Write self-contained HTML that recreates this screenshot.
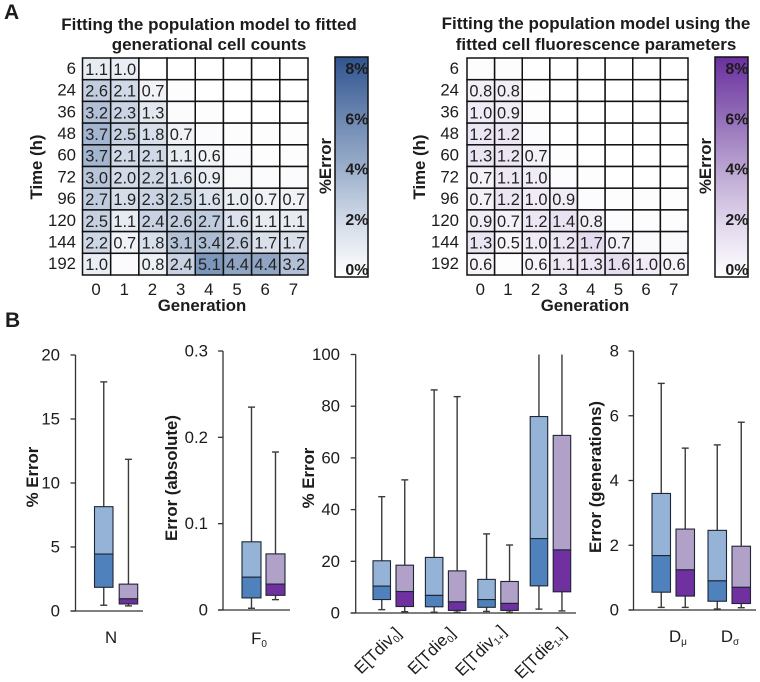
<!DOCTYPE html>
<html lang="en">
<head>
<meta charset="utf-8">
<title>Population model fitting error</title>
<style>
html,body{margin:0;padding:0;background:#fff;}
svg{display:block;font-family:"Liberation Sans",Arial,sans-serif;}
text{fill:#1c1c1c;}
.ttl{font-weight:bold;font-size:17px;text-anchor:middle;}
.axt{font-weight:bold;font-size:16.8px;text-anchor:middle;}
.tk{font-size:16.8px;}
.cell{font-size:16.4px;text-anchor:middle;fill:#222;}
.cb{font-weight:bold;font-size:16px;text-anchor:end;}
.pl{font-weight:bold;font-size:21px;}
</style>
</head>
<body>
<svg id="fig" xmlns="http://www.w3.org/2000/svg" width="760" height="682" viewBox="0 0 760 682">
  <rect width="760" height="682" fill="#fff"/>
  <text class="pl" x="4" y="19">A</text>
  <text class="pl" x="5" y="327">B</text>

  <text class="ttl" x="209" y="30">Fitting the population model to fitted</text>
  <text class="ttl" x="209" y="50">generational cell counts</text>
  <text class="ttl" x="596" y="29">Fitting the population model using the</text>
  <text class="ttl" x="596" y="50">fitted cell fluorescence parameters</text>

  <text class="axt" transform="translate(42,167) rotate(-90)">Time (h)</text>
  <text class="axt" transform="translate(425,167) rotate(-90)">Time (h)</text>
  <text class="axt" x="202" y="311">Generation</text>
  <text class="axt" x="585" y="311">Generation</text>
  <text class="axt" transform="translate(331,166) rotate(-90)">%Error</text>
  <text class="axt" transform="translate(711,166) rotate(-90)">%Error</text>

  <text class="axt" transform="translate(38,477) rotate(-90)">% Error</text>
  <text class="axt" transform="translate(177,478) rotate(-90)">Error (absolute)</text>
  <text class="axt" transform="translate(314,478) rotate(-90)">% Error</text>
  <text class="axt" transform="translate(601,477) rotate(-90)">Error (generations)</text>
</svg>
<script>
/* ---------- heatmap data ---------- */
const timeLabels = ['6','24','36','48','60','72','96','120','144','192'];
const generationLabels = ['0','1','2','3','4','5','6','7'];
const countsError = [
  [1.1,1.0,0.0,0.0,0.0,0.0,0.0,0.0],
  [2.6,2.1,0.7,0.1,0.0,0.0,0.0,0.0],
  [3.2,2.3,1.3,0.2,0.1,0.0,0.0,0.0],
  [3.7,2.5,1.8,0.7,0.2,0.1,0.1,0.1],
  [3.7,2.1,2.1,1.1,0.6,0.2,0.1,0.1],
  [3.0,2.0,2.2,1.6,0.9,0.3,0.2,0.2],
  [2.7,1.9,2.3,2.5,1.6,1.0,0.7,0.7],
  [2.5,1.1,2.4,2.6,2.7,1.6,1.1,1.1],
  [2.2,0.7,1.8,3.1,3.4,2.6,1.7,1.7],
  [1.0,0.2,0.8,2.4,5.1,4.4,4.4,3.2]
];
const fluorescenceError = [
  [0.1,0.1,0.0,0.0,0.0,0.0,0.0,0.0],
  [0.8,0.8,0.1,0.0,0.0,0.0,0.0,0.0],
  [1.0,0.9,0.1,0.0,0.0,0.0,0.0,0.0],
  [1.2,1.2,0.2,0.0,0.0,0.0,0.0,0.0],
  [1.3,1.2,0.7,0.1,0.0,0.0,0.0,0.0],
  [0.7,1.1,1.0,0.2,0.1,0.0,0.0,0.0],
  [0.7,1.2,1.0,0.9,0.2,0.1,0.1,0.1],
  [0.9,0.7,1.2,1.4,0.8,0.2,0.1,0.1],
  [1.3,0.5,1.0,1.2,1.7,0.7,0.3,0.3],
  [0.6,0.1,0.6,1.1,1.3,1.6,1.0,0.6]
];
const colorbarTicks = [0,2,4,6,8];

/* ---------- box plot data: [whisker high, q3, median, q1, whisker low] ---------- */
const nBlue = [17.9,8.15,4.45,1.85,0.45];
const nPurple = [11.85,2.1,0.95,0.55,0.4];
const f0Blue = [0.235,0.079,0.038,0.014,0.002];
const f0Purple = [0.183,0.065,0.03,0.017,0.012];
const tdiv0Blue = [45,20.2,10.4,5.2,1.3];
const tdiv0Purple = [51.5,18.5,8.3,2.5,0.5];
const tdie0Blue = [86.3,21.5,6.8,2.4,0.3];
const tdie0Purple = [83.7,16.3,4.3,1.0,0.3];
const tdiv1Blue = [30.6,13,5.2,2.2,0.6];
const tdiv1Purple = [26.3,12.2,3.7,1.0,0.3];
const tdie1Blue = [100,76,28.8,10.5,1.5];
const tdie1Purple = [100,68.7,24.4,8.2,0.8];
const dMuBlue = [7.0,3.6,1.68,0.55,0.08];
const dMuPurple = [5.0,2.5,1.24,0.43,0.08];
const dSigmaBlue = [5.1,2.46,0.9,0.27,0.03];
const dSigmaPurple = [5.8,1.97,0.7,0.2,0.07];
const nTicks = ['0','5','10','15','20'];
const f0Ticks = ['0','0.1','0.2','0.3'];
const timesTicks = ['0','20','40','60','80','100'];
const dTicks = ['0','2','4','6','8'];

/* ---------- helpers ---------- */
const NS = 'http://www.w3.org/2000/svg';
const svg = document.getElementById('fig');
function mk(tag, attrs, parent) {
  const e = document.createElementNS(NS, tag);
  for (const k in attrs) e.setAttribute(k, attrs[k]);
  (parent || svg).appendChild(e);
  return e;
}
const blueRamp = [[255,255,255],[211,219,232],[154,174,202],[102,130,174],[47,84,144]];
const purpleRamp = [[255,255,255],[224,214,236],[185,162,208],[143,104,181],[107,47,160]];
function rampColor(ramp, v) {
  const t = Math.max(0, Math.min(1, v / 8)) * (ramp.length - 1);
  const i = Math.min(ramp.length - 2, Math.floor(t));
  const f = t - i;
  const c = [0,1,2].map(function (k) { return Math.round(ramp[i][k] + (ramp[i + 1][k] - ramp[i][k]) * f); });
  return 'rgb(' + c.join(',') + ')';
}

/* ---------- heatmaps ---------- */
function drawHeatmap(prefix, matrix, ramp, x0, x1, y0, y1, labelRight) {
  const cw = (x1 - x0) / generationLabels.length;
  const ch = (y1 - y0) / timeLabels.length;
  const g = mk('g', {});
  
  
  matrix.forEach(function (row, r) {
    row.forEach(function (v, c) {
      const rect = mk('rect', {x: x0 + c * cw, y: y0 + r * ch, width: cw, height: ch, fill: rampColor(ramp, v), stroke: '#111', 'stroke-width': 1.5}, g);
      
      
      if (v >= 0.5) {
        const t = mk('text', {class: 'cell', x: x0 + (c + 0.5) * cw, y: y0 + (r + 0.5) * ch + 6}, g);
        t.textContent = v.toFixed(1);
        
        
      }
    });
  });
  timeLabels.forEach(function (lab, r) {
    const t = mk('text', {class: 'tk', x: labelRight, y: y0 + (r + 0.5) * ch + 5, 'text-anchor': 'end'});
    t.textContent = lab;
    
    
  });
  generationLabels.forEach(function (lab, c) {
    const t = mk('text', {class: 'tk', x: x0 + (c + 0.5) * cw - 0.5, y: 295, 'text-anchor': 'middle'});
    t.textContent = lab;
    
    
  });
}
drawHeatmap('left', countsError, blueRamp, 82.5, 308, 58, 275, 76);
drawHeatmap('right', fluorescenceError, purpleRamp, 467, 688, 58, 275, 459);

/* ---------- colorbars ---------- */
const defs = mk('defs', {});
function drawColorbar(prefix, ramp, x) {
  const id = prefix + 'Grad';
  const grad = mk('linearGradient', {id: id, x1: 0, y1: 1, x2: 0, y2: 0}, defs);
  ramp.forEach(function (c, i) {
    mk('stop', {offset: i / (ramp.length - 1), 'stop-color': 'rgb(' + c.join(',') + ')'}, grad);
  });
  const r = mk('rect', {x: x, y: 57, width: 33, height: 220, fill: 'url(#' + id + ')', stroke: '#111', 'stroke-width': 1.5});
  
  
  colorbarTicks.forEach(function (v) {
    const t = mk('text', {class: 'cb', x: x + 33.5, y: 275 - v / 8 * 201});
    t.textContent = v + '%';
    
    
  });
}
drawColorbar('left', blueRamp, 335);
drawColorbar('right', purpleRamp, 715);

/* ---------- box plots ---------- */
const palette = {
  blue: {hi: '#95b3d7', lo: '#4f81bd'},
  purple: {hi: '#b1a0c7', lo: '#7030a0'}
};
function drawBoxChart(cfg) {
  const g = mk('g', {});
  
  
  const y = function (v) { return cfg.y0 - v / cfg.max * (cfg.y0 - cfg.y1); };
  const ink = '#333';
  const ya = mk('line', {x1: cfg.ax, x2: cfg.ax, y1: cfg.y1, y2: cfg.y0, stroke: ink, 'stroke-width': 1.3}, g);
  
  
  const xa = mk('line', {x1: cfg.ax - 5, x2: cfg.axEnd, y1: cfg.y0, y2: cfg.y0, stroke: ink, 'stroke-width': 1.3}, g);
  
  
  cfg.ticks.forEach(function (lab) {
    const v = parseFloat(lab);
    mk('line', {x1: cfg.ax - 5, x2: cfg.ax, y1: y(v), y2: y(v), stroke: ink, 'stroke-width': 1.3}, g);
    const t = mk('text', {class: 'tk', x: cfg.labelRight, y: y(v) + 5.5, 'text-anchor': 'end'}, g);
    t.textContent = lab;
    
    
  });
  cfg.groups.forEach(function (pair, i) {
    pair.forEach(function (d, j) {
      const col = j === 0 ? palette.blue : palette.purple;
      const left = cfg.first + i * cfg.step + j * cfg.pitch;
      const cx = left + cfg.w / 2;
      const b = mk('g', {}, g);
      
      
      mk('line', {x1: cx, x2: cx, y1: y(d[0]), y2: y(d[4]), stroke: '#3a3a3a', 'stroke-width': 1.4}, b);
      if (d[0] < cfg.max) mk('line', {x1: cx - 3.5, x2: cx + 3.5, y1: y(d[0]), y2: y(d[0]), stroke: '#3a3a3a', 'stroke-width': 1.4}, b);
      mk('line', {x1: cx - 3.5, x2: cx + 3.5, y1: y(d[4]), y2: y(d[4]), stroke: '#3a3a3a', 'stroke-width': 1.4}, b);
      mk('rect', {x: left, y: y(d[1]), width: cfg.w, height: y(d[2]) - y(d[1]), fill: col.hi, stroke: '#1d2633', 'stroke-width': 1.1}, b);
      mk('rect', {x: left, y: y(d[2]), width: cfg.w, height: y(d[3]) - y(d[2]), fill: col.lo, stroke: '#1d2633', 'stroke-width': 1.1}, b);
    });
  });
}
drawBoxChart({name: 'n', max: 20, y0: 611, y1: 355, ax: 75.5, axEnd: 143, labelRight: 60, ticks: nTicks,
  first: 94.5, step: 0, pitch: 24.7, w: 18.5, groups: [[nBlue, nPurple]]});
drawBoxChart({name: 'f0', max: 0.3, y0: 610, y1: 351, ax: 223, axEnd: 290, labelRight: 208, ticks: f0Ticks,
  first: 242, step: 0, pitch: 24, w: 19, groups: [[f0Blue, f0Purple]]});
drawBoxChart({name: 'times', max: 100, y0: 613, y1: 354.5, ax: 355.7, axEnd: 576, labelRight: 340, ticks: timesTicks,
  first: 373, step: 52.4, pitch: 23, w: 17.5,
  groups: [[tdiv0Blue, tdiv0Purple],[tdie0Blue, tdie0Purple],[tdiv1Blue, tdiv1Purple],[tdie1Blue, tdie1Purple]]});
drawBoxChart({name: 'd', max: 8, y0: 610, y1: 351, ax: 633.5, axEnd: 756, labelRight: 619, ticks: dTicks,
  first: 652, step: 56, pitch: 24, w: 18.5, groups: [[dMuBlue, dMuPurple],[dSigmaBlue, dSigmaPurple]]});

/* ---------- category labels ---------- */
function catLabel(name, base, sub, x, y, rotate) {
  const attrs = {class: 'tk', 'text-anchor': rotate ? 'end' : 'middle'};
  if (rotate) attrs.transform = 'translate(' + x + ',' + y + ') rotate(-45)';
  else { attrs.x = x; attrs.y = y; }
  const t = mk('text', attrs);
  
  
  const a = mk('tspan', {}, t);
  a.textContent = base;
  if (sub) {
    const s = mk('tspan', {'font-size': '10px', dy: 3}, t);
    s.textContent = sub;
    if (rotate) {
      const c = mk('tspan', {dy: -3}, t);
      c.textContent = ']';
    }
  }
}
catLabel('n-category-label', 'N', '', 111, 643, false);
catLabel('f0-category-label', 'F', '0', 259, 644, false);
catLabel('d-mu-category-label', 'D', '\u03BC', 678, 642, false);
catLabel('d-sigma-category-label', 'D', '\u03C3', 730, 642, false);
catLabel('tdiv0-category-label', 'E[Tdiv', '0', 402, 634, true);
catLabel('tdie0-category-label', 'E[Tdie', '0', 456, 634, true);
catLabel('tdiv1-category-label', 'E[Tdiv', '1+', 507, 632, true);
catLabel('tdie1-category-label', 'E[Tdie', '1+', 567, 634, true);
</script>
</body>
</html>
